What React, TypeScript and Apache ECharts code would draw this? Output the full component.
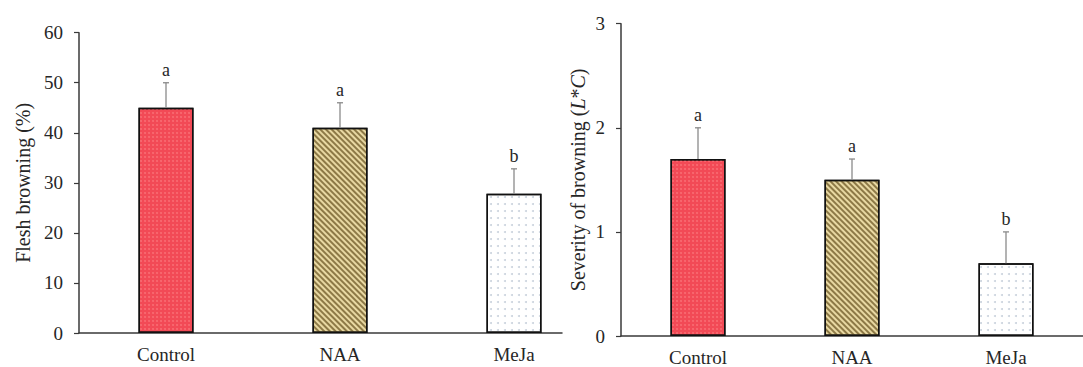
import React, { useEffect, useRef } from "react";
import * as echarts from "echarts";

const categories = ["Control", "NAA", "MeJa"];
const fleshValues = [45, 41, 27.8];
const fleshErrors = [5, 5, 5];
const fleshLetters = ["a", "a", "b"];
const severityValues = [1.7, 1.5, 0.7];
const severityErrors = [0.3, 0.2, 0.3];
const severityLetters = ["a", "a", "b"];
const fleshTicks = { min: 0, max: 60, interval: 10 };
const severityTicks = { min: 0, max: 3, interval: 1 };

const FONT = '"Liberation Serif", "Times New Roman", serif';
const TEXT = "#262626";
const AXIS = "#3a3a3a";

const barStyles = [
  {
    color: "#f24a56",
    decal: {
      symbol: "circle",
      symbolSize: 0.8,
      dashArrayX: 2,
      dashArrayY: 2,
      color: "rgba(255,150,150,0.55)",
    },
  },
  {
    color: "#e8d8a2",
    decal: {
      symbol: "rect",
      symbolSize: 1,
      dashArrayX: [1, 0],
      dashArrayY: [1.1, 2],
      rotation: Math.PI / 4,
      color: "rgba(105,85,35,0.72)",
    },
  },
  {
    color: "#ffffff",
    decal: {
      symbol: "circle",
      symbolSize: 1,
      dashArrayX: [1.5, 4.5],
      dashArrayY: [1.5, 4.5],
      color: "rgba(150,165,185,0.5)",
    },
  },
];

function barData(values: number[]) {
  return values.map((v, i) => ({
    value: v,
    itemStyle: {
      color: barStyles[i].color,
      decal: barStyles[i].decal,
      borderColor: "#111",
      borderWidth: 1.5,
    },
  }));
}

function errorSeries(values: number[], errors: number[], letters: string[], axisIdx: number) {
  return {
    type: "custom",
    xAxisIndex: axisIdx,
    yAxisIndex: axisIdx,
    z: 5,
    data: values.map((v, i) => [i, v, errors[i]]),
    renderItem: (params: any, api: any) => {
      const i = api.value(0);
      const v = api.value(1);
      const e = api.value(2);
      const base = api.coord([i, v]);
      const top = api.coord([i, v + e]);
      return {
        type: "group",
        children: [
          {
            type: "line",
            shape: { x1: base[0], y1: base[1], x2: top[0], y2: top[1] },
            style: { stroke: "#8a8a8a", lineWidth: 1.3 },
          },
          {
            type: "line",
            shape: { x1: top[0] - 3, y1: top[1], x2: top[0] + 3, y2: top[1] },
            style: { stroke: "#8a8a8a", lineWidth: 1.3 },
          },
          {
            type: "text",
            style: {
              text: letters[params.dataIndex],
              x: top[0],
              y: top[1] - 4,
              align: "center",
              verticalAlign: "bottom",
              textAlign: "center",
              textVerticalAlign: "bottom",
              fontSize: 18,
              fontFamily: FONT,
              fill: TEXT,
            },
          },
        ],
      };
    },
  };
}

export default function App() {
  const ref = useRef<HTMLDivElement>(null);
  useEffect(() => {
    document.body.style.margin = "0";
    const chart = echarts.init(ref.current!, null, { renderer: "svg" });
    const yAxisCommon = {
      type: "value",
      splitLine: { show: false },
      axisLine: { show: true, lineStyle: { color: AXIS, width: 1.5 } },
      axisTick: { show: true, length: 5, lineStyle: { color: AXIS, width: 1.2 } },
      axisLabel: { color: TEXT, fontSize: 19, fontFamily: FONT, margin: 16 },
      nameLocation: "middle",
      nameTextStyle: { color: TEXT, fontSize: 20, fontFamily: FONT },
    };
    const xAxisCommon = {
      type: "category",
      data: categories,
      axisTick: { show: false },
      axisLabel: { color: TEXT, fontSize: 19, fontFamily: FONT, margin: 12 },
    };
    chart.setOption({
      animation: false,
      backgroundColor: "#ffffff",
      grid: [
        { left: 79, top: 32.7, width: 522, height: 300.3 },
        { left: 621, top: 23.7, width: 511.5, height: 312.3 },
        { left: 79, top: 32.7, width: 483, height: 300.3 },
      ],
      xAxis: [
        { ...xAxisCommon, gridIndex: 0, axisLine: { show: false } },
        {
          ...xAxisCommon,
          gridIndex: 1,
          axisLine: { show: true, lineStyle: { color: AXIS, width: 1.5 } },
        },
        {
          type: "value",
          gridIndex: 2,
          min: 0,
          max: 1,
          axisLine: { show: true, onZero: false, lineStyle: { color: AXIS, width: 1.5 } },
          axisTick: { show: false },
          axisLabel: { show: false },
          splitLine: { show: false },
        },
      ],
      yAxis: [
        {
          ...yAxisCommon,
          gridIndex: 0,
          min: fleshTicks.min,
          max: fleshTicks.max,
          interval: fleshTicks.interval,
          name: "Flesh browning (%)",
          nameGap: 46,
        },
        {
          ...yAxisCommon,
          gridIndex: 1,
          min: severityTicks.min,
          max: severityTicks.max,
          interval: severityTicks.interval,
          name: "Severity of browning ({i|L}*{i|C})",
          nameGap: 33,
          nameTextStyle: {
            color: TEXT,
            fontSize: 20,
            fontFamily: FONT,
            rich: { i: { fontStyle: "italic", fontSize: 20, fontFamily: FONT, color: TEXT } },
          },
        },
        { type: "value", gridIndex: 2, show: false, min: 0, max: 1 },
      ],
      series: [
        {
          type: "bar",
          xAxisIndex: 0,
          yAxisIndex: 0,
          barWidth: 55,
          data: barData(fleshValues),
        },
        errorSeries(fleshValues, fleshErrors, fleshLetters, 0),
        {
          type: "bar",
          xAxisIndex: 1,
          yAxisIndex: 1,
          barWidth: 55,
          data: barData(severityValues),
        },
        errorSeries(severityValues, severityErrors, severityLetters, 1),
      ],
    });
    return () => chart.dispose();
  }, []);
  return (
    <div
      ref={ref}
      style={{ position: "absolute", left: 0, top: 0, width: 1083, height: 367, overflow: "hidden" }}
    />
  );
}
